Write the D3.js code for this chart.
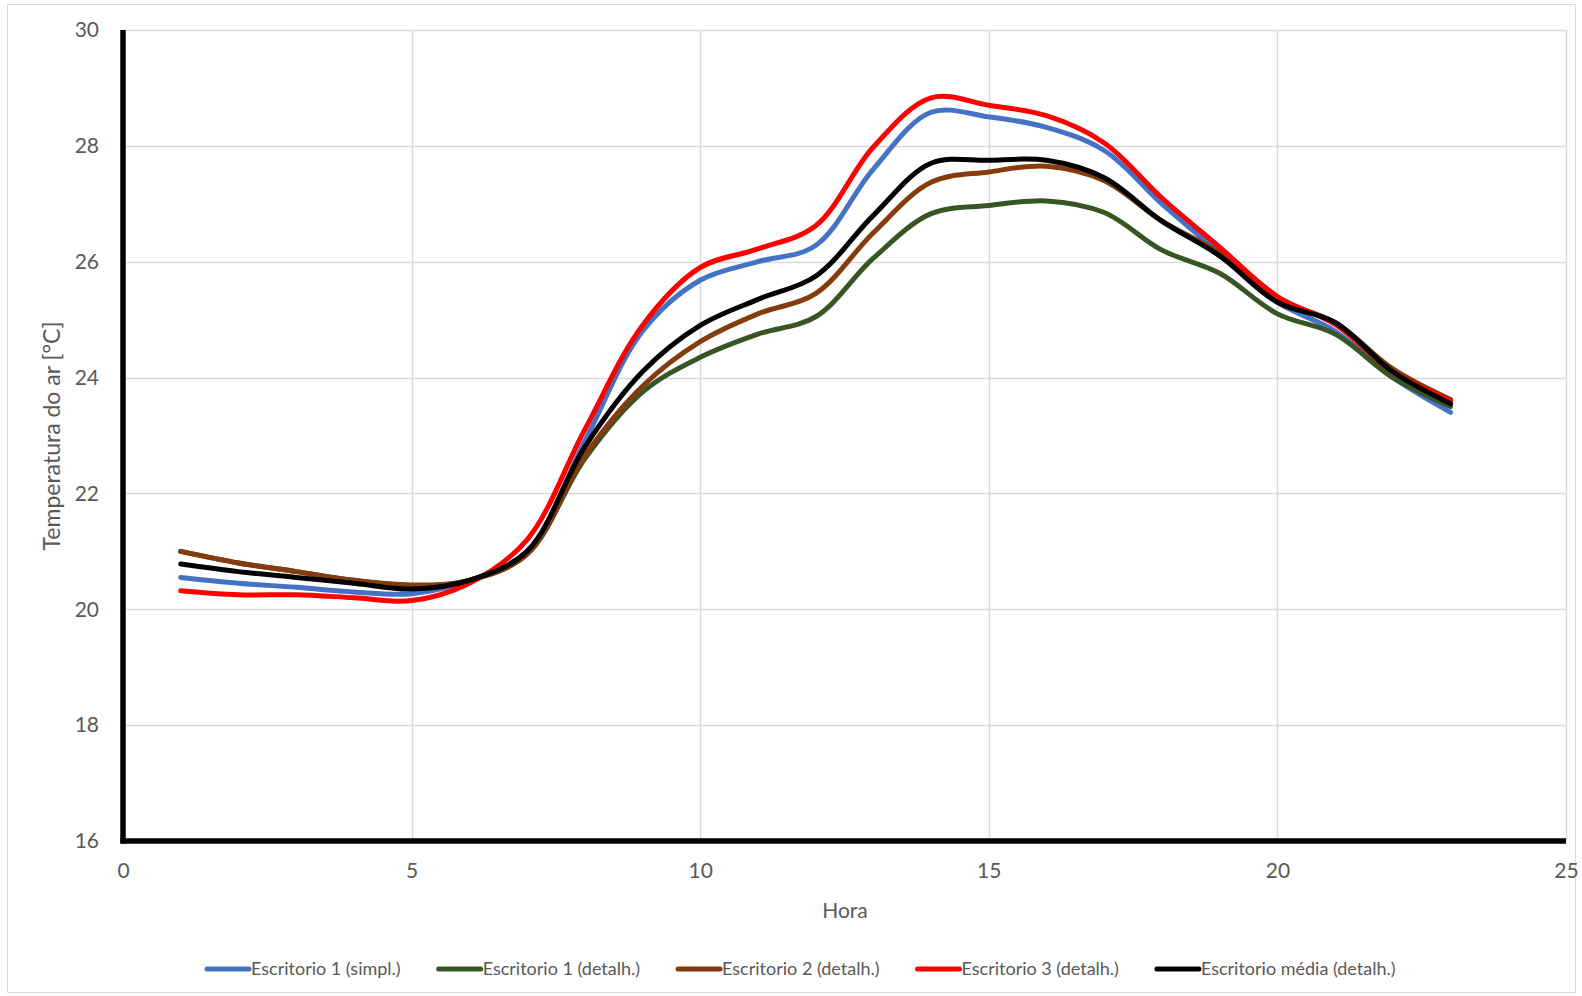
<!DOCTYPE html>
<html>
<head>
<meta charset="utf-8">
<script src="https://cdn.jsdelivr.net/npm/d3@7"></script>
<style>
  html, body { margin: 0; padding: 0; background: #fff; }
  svg { display: block; }
  text { font-family: Lato, "Open Sans", sans-serif; fill: #595959; }
</style>
</head>
<body>
<svg id="chart" width="1582" height="996"></svg>
<script>
// Hourly air temperature, hours 1..23
const hours = d3.range(1, 24);
const esc1Simpl  = [20.55,20.45,20.38,20.30,20.27,20.50,21.00,22.90,24.80,25.68,26.00,26.28,27.60,28.58,28.50,28.32,27.92,27.00,26.15,25.30,24.80,24.00,23.40];
const esc1Detalh = [21.00,20.80,20.65,20.50,20.40,20.50,20.95,22.60,23.75,24.35,24.75,25.05,26.06,26.83,26.97,27.05,26.85,26.20,25.80,25.10,24.75,24.00,23.50];
const esc2Detalh = [21.00,20.80,20.65,20.50,20.42,20.50,20.95,22.65,23.85,24.62,25.10,25.45,26.50,27.37,27.55,27.65,27.40,26.70,26.15,25.35,24.95,24.15,23.62];
const esc3Detalh = [20.32,20.25,20.25,20.20,20.15,20.45,21.20,23.10,24.90,25.90,26.22,26.62,27.98,28.83,28.70,28.52,28.05,27.10,26.25,25.40,24.92,24.10,23.60];
const escMedia   = [20.78,20.65,20.55,20.45,20.35,20.50,21.00,22.80,24.10,24.90,25.35,25.75,26.80,27.70,27.75,27.75,27.45,26.70,26.10,25.30,24.95,24.10,23.55];

const seriesNames  = ["Escritorio 1 (simpl.)","Escritorio 1 (detalh.)","Escritorio 2 (detalh.)","Escritorio 3 (detalh.)","Escritorio média (detalh.)"];
const seriesValues = [esc1Simpl, esc1Detalh, esc2Detalh, esc3Detalh, escMedia];
const seriesColors = ["#4472C4","#375623","#843C0C","#FF0000","#000000"];

const xTicks = [0,5,10,15,20,25];
const yTicks = [16,18,20,22,24,26,28,30];

const svg = d3.select("#chart");

// chart frame
svg.append("rect").attr("x", 7.5).attr("y", 4.5).attr("width", 1568).attr("height", 988)
  .attr("fill", "#fff").attr("stroke", "#d9d9d9").attr("stroke-width", 1);

const x = d3.scaleLinear().domain([0, 25]).range([123, 1566]);
const y = d3.scaleLinear().domain([16, 30]).range([841, 30]);

// gridlines
const grid = svg.append("g");
grid.selectAll(".hg").data(yTicks).join("line")
  .attr("x1", x(0)).attr("x2", x(25))
  .attr("y1", d => Math.round(y(d)) + 0.5).attr("y2", d => Math.round(y(d)) + 0.5)
  .attr("stroke", "#d9d9d9").attr("stroke-width", 1.5);
grid.selectAll(".vg").data(xTicks.filter(d => d > 0)).join("line")
  .attr("x1", d => Math.round(x(d)) + 0.5).attr("x2", d => Math.round(x(d)) + 0.5)
  .attr("y1", y(30)).attr("y2", y(16))
  .attr("stroke", "#d9d9d9").attr("stroke-width", 1.5);

// axes (labels only; the heavy axis lines are drawn separately)
const xAxis = d3.axisBottom(x).tickValues(xTicks).tickSize(0).tickPadding(22);
const yAxis = d3.axisLeft(y).tickValues(yTicks).tickSize(0).tickPadding(24);
const gx = svg.append("g").attr("transform", `translate(0,${y(16)})`).call(xAxis);
const gy = svg.append("g").attr("transform", `translate(${x(0)},0)`).call(yAxis);
[gx, gy].forEach(g => {
  g.select(".domain").remove();
  g.selectAll("text").style("font-family", "Lato, 'Open Sans', sans-serif")
    .style("font-size", "21px").attr("fill", "#595959");
});

// series lines
const line = d3.line().x((d, i) => x(hours[i])).y(d => y(d)).curve(d3.curveCatmullRom.alpha(0.5));
const lines = svg.append("g");
seriesValues.forEach((vals, k) => {
  lines.append("path").datum(vals).attr("d", line)
    .attr("fill", "none").attr("stroke", seriesColors[k])
    .attr("stroke-width", 5).attr("stroke-linecap", "round").attr("stroke-linejoin", "round");
});

// heavy axis lines
svg.append("line").attr("x1", x(0)).attr("x2", x(0)).attr("y1", y(30)).attr("y2", y(16) + 2.5)
  .attr("stroke", "#000").attr("stroke-width", 5.5);
svg.append("line").attr("x1", x(0) - 2.5).attr("x2", x(25)).attr("y1", y(16)).attr("y2", y(16))
  .attr("stroke", "#000").attr("stroke-width", 5.5);

// axis titles
svg.append("text").attr("x", 845).attr("y", 918).attr("text-anchor", "middle")
  .style("font-size", "21px").text("Hora");
svg.append("text").attr("transform", `translate(60,436) rotate(-90)`).attr("text-anchor", "middle")
  .style("font-size", "23px").text("Temperatura do ar [°C]");

// legend
const legend = svg.append("g");
let lx = 207;
const ly = 969;
seriesNames.forEach((name, k) => {
  legend.append("line").attr("x1", lx).attr("x2", lx + 42).attr("y1", ly).attr("y2", ly)
    .attr("stroke", seriesColors[k]).attr("stroke-width", 5).attr("stroke-linecap", "round");
  const t = legend.append("text").attr("x", lx + 44).attr("y", ly + 6)
    .style("font-size", "18px").text(name);
  lx += 44 + t.node().getComputedTextLength() + 38;
});
</script>
</body>
</html>
